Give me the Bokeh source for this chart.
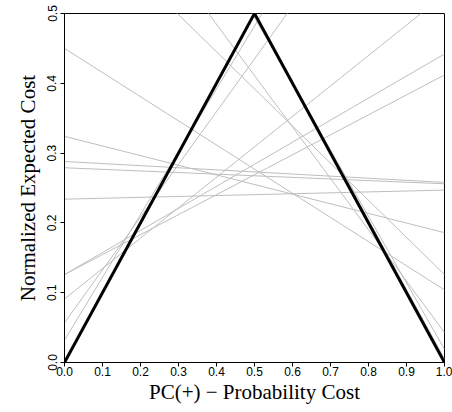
from bokeh.plotting import figure
from bokeh.models import Range1d, FixedTicker
from bokeh.embed import file_html
from bokeh.resources import INLINE

# Each classifier: normalized expected cost at PC(+)=0 (FP rate) and at PC(+)=1 (FN rate)
fp_rate = [0.450, 0.324, 0.288, 0.279, 0.234, 0.126, 0.126, 0.091, 0.057, 0.032, 0.658, 0.779, 0.970, 1.000]
fn_rate = [0.104, 0.186, 0.258, 0.256, 0.247, 0.442, 0.412, 0.527, 0.813, 0.932, 0.126, 0.043, 0.019, 0.005]

# Trivial classifiers (always negative / always positive)
trivial_fp = [0.0, 1.0]
trivial_fn = [1.0, 0.0]

x_ticks = [0.0, 0.1, 0.2, 0.3, 0.4, 0.5, 0.6, 0.7, 0.8, 0.9, 1.0]
x_tick_labels = ["0.0", "0.1", "0.2", "0.3", "0.4", "0.5", "0.6", "0.7", "0.8", "0.9", "1.0"]
y_ticks = [0.0, 0.1, 0.2, 0.3, 0.4, 0.5]
y_tick_labels = ["0.0", "0.1", "0.2", "0.3", "0.4", "0.5"]

p = figure(width=452, height=412, output_backend="svg", toolbar_location=None,
           x_range=Range1d(0, 1), y_range=Range1d(0, 0.5),
           min_border_left=64, min_border_right=8, min_border_top=13, min_border_bottom=50)
p.background_fill_color = "white"
p.border_fill_color = "white"
p.outline_line_color = "black"
p.outline_line_width = 1
p.grid.visible = False

p.segment(x0=[0.0] * len(fp_rate), y0=fp_rate, x1=[1.0] * len(fn_rate), y1=fn_rate,
          line_color="#bebebe", line_width=1)
p.segment(x0=[0.0] * len(trivial_fp), y0=trivial_fp, x1=[1.0] * len(trivial_fn), y1=trivial_fn,
          line_color="black", line_width=3)

for ax in (p.xaxis[0], p.yaxis[0]):
    ax.major_tick_out = 4
    ax.major_tick_in = 0
    ax.minor_tick_out = 0
    ax.minor_tick_in = 0
    ax.axis_line_color = "black"
    ax.major_tick_line_color = "black"
    ax.major_label_text_font = "Liberation Sans"
    ax.major_label_text_font_size = "12px"
    ax.major_label_text_color = "black"
    ax.axis_label_text_font = "Liberation Serif"
    ax.axis_label_text_font_size = "21px"
    ax.axis_label_text_font_style = "normal"
    ax.axis_label_text_color = "black"

p.xaxis[0].ticker = FixedTicker(ticks=x_ticks)
p.xaxis[0].major_label_overrides = dict(zip(x_ticks, x_tick_labels))
p.xaxis[0].axis_label = "PC(+) \u2212 Probability Cost"
p.xaxis[0].major_label_standoff = 0
p.xaxis[0].axis_label_standoff = 1

p.yaxis[0].ticker = FixedTicker(ticks=y_ticks)
p.yaxis[0].major_label_overrides = dict(zip(y_ticks, y_tick_labels))
p.yaxis[0].major_label_orientation = "vertical"
p.yaxis[0].axis_label = "Normalized Expected Cost"
p.yaxis[0].major_label_standoff = 4
p.yaxis[0].axis_label_standoff = 5

open("out.html", "w").write(file_html(p, INLINE))
